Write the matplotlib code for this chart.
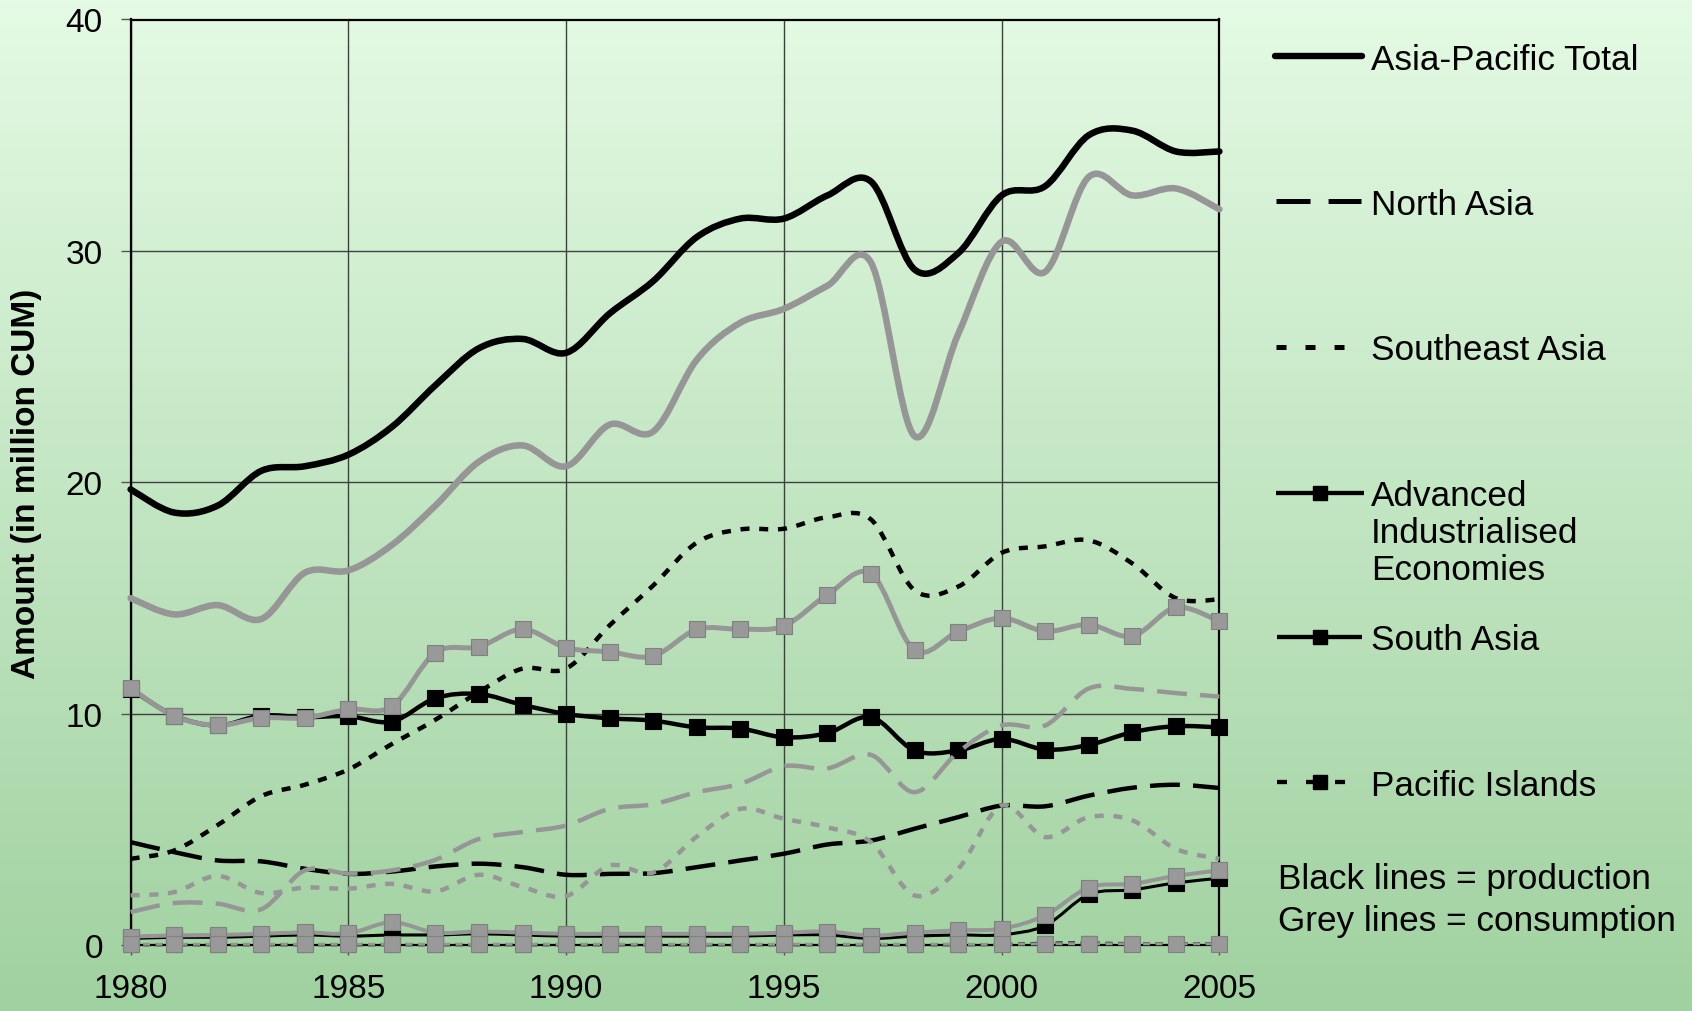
import numpy as np
import matplotlib
matplotlib.use("Agg")
import matplotlib.pyplot as plt
from matplotlib.path import Path
from matplotlib.patches import PathPatch
from matplotlib.lines import Line2D

plt.rcParams['font.family'] = ['Liberation Sans', 'DejaVu Sans']
plt.rcParams['lines.scale_dashes'] = False

# ---------------- data ----------------
years = list(range(1980, 2006))
x_ticks = [1980, 1985, 1990, 1995, 2000, 2005]
y_ticks = [0, 10, 20, 30, 40]

ap_prod = [19.7, 18.7, 19.0, 20.5, 20.7, 21.2, 22.4, 24.2, 25.8, 26.2, 25.6, 27.3, 28.7,
           30.6, 31.4, 31.4, 32.4, 33.0, 29.2, 29.9, 32.4, 32.8, 35.0, 35.2, 34.3, 34.3]
ap_cons = [15.0, 14.3, 14.7, 14.1, 16.1, 16.2, 17.3, 19.0, 20.9, 21.6, 20.7, 22.5, 22.2,
           25.3, 26.9, 27.5, 28.5, 29.5, 22.0, 26.4, 30.4, 29.1, 33.2, 32.4, 32.7, 31.8]
na_prod = [4.46, 4.03, 3.67, 3.63, 3.31, 3.09, 3.19, 3.41, 3.53, 3.38, 3.05, 3.09, 3.12,
           3.38, 3.67, 3.96, 4.36, 4.53, 5.04, 5.54, 6.04, 6.01, 6.47, 6.81, 6.94, 6.8]
na_cons = [1.44, 1.83, 1.8, 1.56, 3.24, 3.1, 3.24, 3.7, 4.6, 4.9, 5.18, 5.9, 6.1,
           6.62, 6.98, 7.74, 7.65, 8.23, 6.62, 8.35, 9.5, 9.5, 11.1, 11.08, 10.9, 10.75]
se_prod = [3.74, 4.1, 5.2, 6.45, 6.94, 7.6, 8.7, 9.75, 10.95, 11.96, 11.96, 13.83, 15.55,
           17.4, 17.97, 18.0, 18.5, 18.4, 15.34, 15.5, 16.96, 17.24, 17.5, 16.5, 15.0, 14.95]
se_cons = [2.16, 2.3, 3.0, 2.26, 2.5, 2.45, 2.66, 2.33, 3.05, 2.52, 2.13, 3.45, 3.15,
           4.7, 5.9, 5.47, 5.1, 4.46, 2.16, 3.3, 6.04, 4.68, 5.54, 5.4, 4.17, 3.74]
aie_prod = [11.08, 9.93, 9.5, 9.93, 9.86, 9.9, 9.67, 10.68, 10.86, 10.39, 10.0, 9.81, 9.71,
            9.42, 9.37, 8.99, 9.17, 9.86, 8.42, 8.42, 8.92, 8.46, 8.66, 9.21, 9.47, 9.42]
aie_cons = [11.12, 9.91, 9.51, 9.83, 9.83, 10.2, 10.33, 12.65, 12.9, 13.66, 12.86, 12.68, 12.5,
            13.65, 13.66, 13.8, 15.15, 16.06, 12.75, 13.55, 14.14, 13.57, 13.86, 13.36, 14.6, 14.0]
sa_prod = [0.3, 0.35, 0.35, 0.4, 0.45, 0.4, 0.45, 0.45, 0.5, 0.45, 0.4, 0.4, 0.4,
           0.4, 0.4, 0.45, 0.45, 0.3, 0.4, 0.45, 0.46, 0.86, 2.2, 2.4, 2.7, 2.9]
sa_cons = [0.38, 0.43, 0.45, 0.5, 0.56, 0.52, 1.0, 0.55, 0.6, 0.55, 0.5, 0.5, 0.5,
           0.5, 0.5, 0.55, 0.6, 0.42, 0.55, 0.65, 0.72, 1.3, 2.5, 2.66, 3.0, 3.24]
pi_prod = [0.03, 0.03, 0.03, 0.03, 0.03, 0.03, 0.03, 0.03, 0.03, 0.03, 0.03, 0.03, 0.03,
           0.03, 0.03, 0.03, 0.03, 0.03, 0.03, 0.03, 0.04, 0.1, 0.1, 0.08, 0.08, 0.08]
pi_cons = [0.05, 0.05, 0.05, 0.05, 0.05, 0.05, 0.05, 0.05, 0.05, 0.05, 0.05, 0.05, 0.05,
           0.05, 0.05, 0.05, 0.05, 0.05, 0.05, 0.05, 0.05, 0.07, 0.07, 0.07, 0.07, 0.07]

legend_labels = ["Asia-Pacific Total", "North Asia", "Southeast Asia",
                 "Advanced\nIndustrialised\nEconomies", "South Asia", "Pacific Islands"]
note_lines = ["Black lines = production", "Grey lines = consumption"]
y_label = "Amount (in million CUM)"

# ---------------- figure ----------------
W, H = 1692, 1012
fig = plt.figure(figsize=(W / 100, H / 100), dpi=100)

bg = fig.add_axes([0, 0, 1, 1], zorder=-10)
top = np.array([228, 250, 228]) / 255.0
bot = np.array([160, 209, 160]) / 255.0
t = np.linspace(0, 1, 256)[:, None, None]
grad = top[None, None, :] * (1 - t) + bot[None, None, :] * t
bg.imshow(grad, aspect='auto', extent=[0, 1, 0, 1], origin='upper')
bg.axis('off')

L, R, T, B = 130.6, 1219.4, 20.5, 946.4
ax = fig.add_axes([L / W, 1 - B / H, (R - L) / W, (B - T) / H])
ax.set_facecolor('none')
ax.set_xlim(1980, 2005)
ax.set_ylim(0, 40)
ax.set_xticks(x_ticks)
ax.set_yticks(y_ticks)
ax.grid(True, color='#404040', lw=1.0)
ax.set_axisbelow(True)
for s in ax.spines.values():
    s.set_color('black')
    s.set_linewidth(1.6)
ax.tick_params(axis='both', direction='out', length=7, width=1, color='#555555',
               labelsize=24)
ax.tick_params(axis='x', pad=13)
ax.tick_params(axis='y', pad=13)

GREY = '#969696'


def smooth_path(xs, ys):
    pts = np.column_stack([xs, ys]).astype(float)
    n = len(pts)
    verts = [pts[0]]
    codes = [Path.MOVETO]
    for i in range(n - 1):
        p0 = pts[i - 1] if i > 0 else pts[i]
        p1 = pts[i]
        p2 = pts[i + 1]
        p3 = pts[i + 2] if i + 2 < n else pts[i + 1]
        verts += [p1 + (p2 - p0) / 6.0, p2 - (p3 - p1) / 6.0, p2]
        codes += [Path.CURVE4] * 3
    return Path(verts, codes)


def draw(vals, color, lw, ls='-', marker=None, ms=10, z=3, cap='butt',
         mfc=None, mec=None):
    p = PathPatch(smooth_path(years, vals), facecolor='none', edgecolor=color,
                  lw=lw, linestyle=ls, capstyle=cap, joinstyle='round',
                  transform=ax.transData, zorder=z, clip_on=False)
    ax.add_patch(p)
    if marker:
        ax.plot(years, vals, linestyle='none', marker=marker, ms=ms,
                mfc=mfc or color, mec=mec or color, mew=0.8, zorder=z + 0.1,
                clip_on=False)


short_dash = (0, (6.5, 7.0))
long_dash = (0, (21.5, 9.5))
pi_dash = (0, (5, 4))

# production (black)
draw(pi_prod, 'black', 2.2, pi_dash, marker='s', ms=10, z=3)
draw(sa_prod, 'black', 2.2, '-', marker='s', ms=11, z=3.2)
draw(na_prod, 'black', 3.2, long_dash, z=3.4)
draw(se_prod, 'black', 3.2, short_dash, z=3.4)
draw(aie_prod, 'black', 3.2, '-', marker='s', ms=11, z=3.6)
draw(ap_prod, 'black', 4.7, '-', z=3.8, cap='round')
# consumption (grey)
draw(na_cons, GREY, 3.2, long_dash, z=4.0)
draw(se_cons, GREY, 3.2, short_dash, z=4.0)
draw(ap_cons, GREY, 4.7, '-', z=4.2, cap='round')
draw(aie_cons, GREY, 3.6, '-', marker='s', ms=11.5, z=4.4, mfc='#999999', mec='#808080')
draw(sa_cons, GREY, 2.9, '-', marker='s', ms=11.5, z=4.6, mfc='#999999', mec='#808080')
draw(pi_cons, GREY, 2.2, pi_dash, marker='s', ms=11.5, z=4.8, mfc='#999999', mec='#808080')

# y label
fig.text(27 / W, 1 - 483.5 / H, y_label, rotation=90, fontweight='bold', fontsize=24,
         ha='center', va='center')

# ---------------- legend (manual) ----------------
def fx(x):
    return x / W


def fy(y):
    return 1 - y / H


def hline(x0, x1, y, lw, dashes=None, cap='butt', marker=False):
    ln = Line2D([fx(x0), fx(x1)], [fy(y), fy(y)], transform=fig.transFigure,
                color='black', lw=lw, solid_capstyle=cap, dash_capstyle='butt')
    if dashes:
        ln.set_dashes(dashes)
    fig.add_artist(ln)
    if marker:
        fig.add_artist(Line2D([fx(1320)], [fy(y)], transform=fig.transFigure,
                              linestyle='none', marker='s', ms=9.5, color='black'))


TX = 1371
FS = 25.3
hline(1275, 1362, 56.7, 4.6, cap='round')
fig.text(fx(TX), fy(70), legend_labels[0], fontsize=FS, va='baseline')
hline(1276, 1361, 202.3, 3.6, dashes=(24.5, 13.0))
fig.text(fx(TX), fy(215), legend_labels[1], fontsize=FS, va='baseline')
hline(1276, 1344, 348, 3.6, dashes=(7.2, 13.7))
fig.text(fx(TX), fy(360), legend_labels[2], fontsize=FS, va='baseline')
hline(1275.5, 1364, 493.6, 3.1, marker=True)
for k, line in enumerate(legend_labels[3].split("\n")):
    fig.text(fx(TX), fy(506.5 + 36.8 * k), line, fontsize=FS, va='baseline')
hline(1276.5, 1362, 637.8, 3.1, marker=True)
fig.text(fx(TX), fy(650.3), legend_labels[4], fontsize=FS, va='baseline')
hline(1276.6, 1346, 783, 3.1, dashes=(7.2, 13.7), marker=True)
fig.text(fx(TX), fy(795.6), legend_labels[5], fontsize=FS, va='baseline')
fig.text(fx(1278), fy(888.9), note_lines[0], fontsize=FS, va='baseline')
fig.text(fx(1278), fy(931.3), note_lines[1], fontsize=FS, va='baseline')

fig.savefig("out.png", dpi=100)
